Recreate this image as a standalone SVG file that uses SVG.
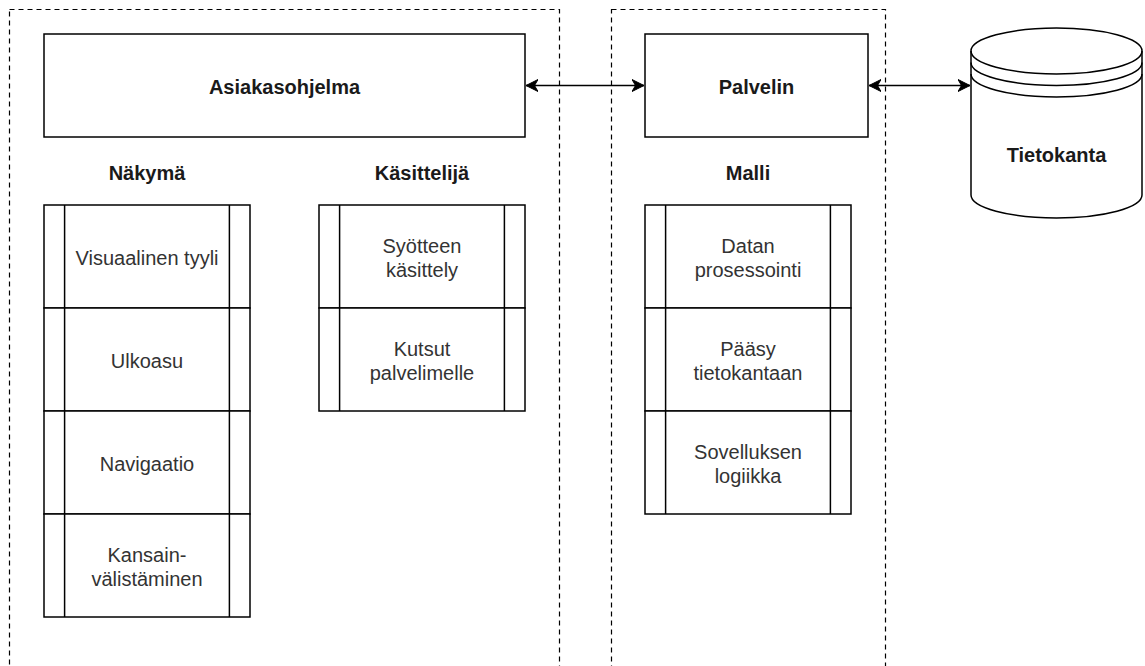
<svg xmlns="http://www.w3.org/2000/svg" width="1145" height="666" viewBox="0 0 1145 666">
  <defs>
    <marker id="arr" markerUnits="userSpaceOnUse" markerWidth="13" markerHeight="13" refX="12" refY="6.5" orient="auto-start-reverse" viewBox="0 0 13 13">
      <path d="M0,0.5 L12,6.5 L0,12.5 L3.5,6.5 Z" fill="#000" stroke="#000" stroke-width="1"/>
    </marker>
    <style>
      .box { fill: #fff; stroke: #000; stroke-width: 1.5; }
      .ln { fill: none; stroke: #000; stroke-width: 1.5; }
      .dash { fill: none; stroke: #000; stroke-width: 1.2; stroke-dasharray: 5 4; }
      .head { font-family: "Liberation Sans", Arial, sans-serif; font-size: 20px; font-weight: bold; fill: #1a1a1a; text-anchor: middle; }
      .txt { font-family: "Liberation Sans", Arial, sans-serif; font-size: 20px; fill: #333; text-anchor: middle; }
      .conn { fill: none; stroke: #000; stroke-width: 1.5; }
    </style>
  </defs>
  <rect width="1145" height="666" fill="#fff"/>

  <g id="container-client">
    <rect class="dash" x="9.5" y="9.5" width="550" height="700"/>
  </g>
  <g id="container-server">
    <rect class="dash" x="611.5" y="9.5" width="274" height="700"/>
  </g>

  <g id="asiakasohjelma">
    <rect class="box" x="44" y="34" width="481" height="103"/>
    <text class="head" x="284.5" y="94">Asiakasohjelma</text>
  </g>
  <g id="palvelin">
    <rect class="box" x="645" y="34" width="223" height="103"/>
    <text class="head" x="756.5" y="94">Palvelin</text>
  </g>
  <g id="tietokanta">
    <path class="box" d="M971,51 A85.5,23 0 0 1 1142,51 L1142,195 A85.5,23 0 0 1 971,195 Z"/>
    <path class="ln" d="M971,51 A85.5,23 0 0 0 1142,51 M971,62.5 A85.5,23 0 0 0 1142,62.5 M971,74 A85.5,23 0 0 0 1142,74"/>
    <text class="head" x="1056.5" y="162">Tietokanta</text>
  </g>

  <g id="label-nakyma"><text class="head" x="147" y="180">Näkymä</text></g>
  <g id="label-kasittelija"><text class="head" x="422" y="180">Käsittelijä</text></g>
  <g id="label-malli"><text class="head" x="748" y="180">Malli</text></g>

  <g id="visuaalinen-tyyli">
    <rect class="box" x="44" y="205" width="206" height="103"/>
    <path class="ln" d="M64.6,205 V308 M229.4,205 V308"/>
    <text class="txt" x="147" y="265">Visuaalinen tyyli</text>
  </g>
  <g id="ulkoasu">
    <rect class="box" x="44" y="308" width="206" height="103"/>
    <path class="ln" d="M64.6,308 V411 M229.4,308 V411"/>
    <text class="txt" x="147" y="368">Ulkoasu</text>
  </g>
  <g id="navigaatio">
    <rect class="box" x="44" y="411" width="206" height="103"/>
    <path class="ln" d="M64.6,411 V514 M229.4,411 V514"/>
    <text class="txt" x="147" y="471">Navigaatio</text>
  </g>
  <g id="kansainvalistaminen">
    <rect class="box" x="44" y="514" width="206" height="103"/>
    <path class="ln" d="M64.6,514 V617 M229.4,514 V617"/>
    <text class="txt" x="147" y="562">Kansain-</text>
    <text class="txt" x="147" y="586">välistäminen</text>
  </g>

  <g id="syotteen-kasittely">
    <rect class="box" x="319" y="205" width="206" height="103"/>
    <path class="ln" d="M339.6,205 V308 M504.4,205 V308"/>
    <text class="txt" x="422" y="253">Syötteen</text>
    <text class="txt" x="422" y="277">käsittely</text>
  </g>
  <g id="kutsut-palvelimelle">
    <rect class="box" x="319" y="308" width="206" height="103"/>
    <path class="ln" d="M339.6,308 V411 M504.4,308 V411"/>
    <text class="txt" x="422" y="356">Kutsut</text>
    <text class="txt" x="422" y="380">palvelimelle</text>
  </g>

  <g id="datan-prosessointi">
    <rect class="box" x="645" y="205" width="206" height="103"/>
    <path class="ln" d="M665.6,205 V308 M830.4,205 V308"/>
    <text class="txt" x="748" y="253">Datan</text>
    <text class="txt" x="748" y="277">prosessointi</text>
  </g>
  <g id="paasy-tietokantaan">
    <rect class="box" x="645" y="308" width="206" height="103"/>
    <path class="ln" d="M665.6,308 V411 M830.4,308 V411"/>
    <text class="txt" x="748" y="356">Pääsy</text>
    <text class="txt" x="748" y="380">tietokantaan</text>
  </g>
  <g id="sovelluksen-logiikka">
    <rect class="box" x="645" y="411" width="206" height="103"/>
    <path class="ln" d="M665.6,411 V514 M830.4,411 V514"/>
    <text class="txt" x="748" y="459">Sovelluksen</text>
    <text class="txt" x="748" y="483">logiikka</text>
  </g>

  <g id="connectors">
    <path class="conn" d="M526,85.5 H644" marker-start="url(#arr)" marker-end="url(#arr)"/>
    <path class="conn" d="M869,85.5 H970" marker-start="url(#arr)" marker-end="url(#arr)"/>
  </g>
</svg>
